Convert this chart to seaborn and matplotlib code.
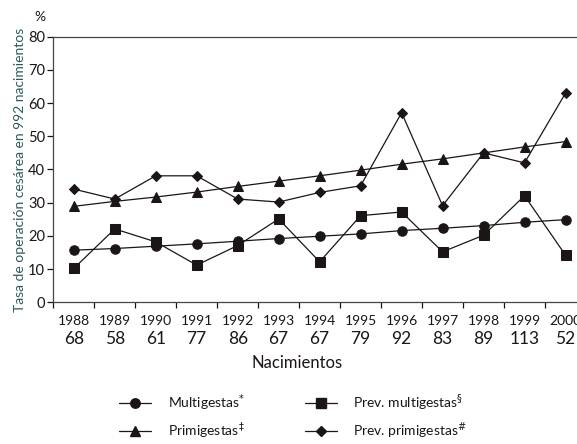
import matplotlib
matplotlib.use("Agg")
import matplotlib.pyplot as plt
import matplotlib.transforms as mtransforms
from matplotlib.lines import Line2D
import seaborn as sns
import pandas as pd
import numpy as np

years = ["1988", "1989", "1990", "1991", "1992", "1993", "1994",
         "1995", "1996", "1997", "1998", "1999", "2000"]
births = ["68", "58", "61", "77", "86", "67", "67", "79", "92", "83", "89", "113", "52"]

multigestas = [15.7, 16.2, 16.9, 17.6, 18.4, 19.2, 19.9, 20.6, 21.6, 22.3, 23.1, 24.1, 24.9]
prev_multigestas = [10.2, 22.1, 18.2, 11.2, 17.1, 25.1, 12.2, 26.1, 27.2, 15.2, 20.2, 32.1, 14.2]
primigestas = [28.9, 30.4, 31.7, 33.2, 34.9, 36.5, 38.1, 39.8, 41.6, 43.2, 45.0, 46.8, 48.4]
prev_primigestas = [34.1, 31.1, 38.1, 38.1, 31.1, 30.2, 33.1, 35.1, 57.1, 29.1, 45.0, 42.0, 63.0]

series_names = ["Multigestas", "Prev. multigestas", "Primigestas", "Prev. primigestas"]
series_vals = [multigestas, prev_multigestas, primigestas, prev_primigestas]
labels = ["Multigestas$^{*}$", "Prev. multigestas$^{\\S}$",
          "Primigestas$^{\\ddag}$", "Prev. primigestas$^{\\#}$"]

rows = []
for name, vals in zip(series_names, series_vals):
    for i, v in enumerate(vals):
        rows.append({"pos": i, "value": v, "serie": name})
df = pd.DataFrame(rows)

sns.set_style("ticks")
plt.rcParams["font.family"] = ["Lato", "DejaVu Sans"]
plt.rcParams["mathtext.fontset"] = "dejavusans"

ink = "#1c1515"
markers = {"Multigestas": "o", "Prev. multigestas": "s",
           "Primigestas": "^", "Prev. primigestas": "D"}
sizes = {"Multigestas": 6.8, "Prev. multigestas": 7.2,
         "Primigestas": 7.4, "Prev. primigestas": 5.6}

fig = plt.figure(figsize=(5.77, 4.44), dpi=100)
ax = fig.add_axes([53.3 / 577, 1 - 302.3 / 444, (586 - 53.3) / 577, (302.3 - 36.7) / 444])

for name in series_names:
    sub = df[df["serie"] == name]
    sns.lineplot(data=sub, x="pos", y="value", ax=ax, color=ink, lw=0.9,
                 marker=markers[name], markersize=sizes[name],
                 markeredgecolor=ink, markerfacecolor=ink, legend=False)

ax.set_xlim(-0.5, 12.5)
ax.set_ylim(0, 80)
ax.set_yticks(np.arange(0, 81, 10))
ax.tick_params(axis="y", labelsize=10.5, length=4, width=0.9, color=ink, pad=2, labelcolor=ink)
ax.set_xticks(np.arange(13))
ax.set_xticklabels(years, fontsize=10, color=ink)
ax.tick_params(axis="x", which="major", length=0, pad=9)
ax.set_xticks(np.arange(-0.5, 12.6, 1), minor=True)
ax.tick_params(axis="x", which="minor", length=4, width=0.9, color=ink)
ax.set_xlabel("")
ax.set_ylabel("Tasa de operación cesárea en 992 nacimientos", fontsize=10,
              color="#2b5a57", labelpad=1)

for sp in ["left", "bottom", "top"]:
    ax.spines[sp].set_color("#4a4443")
    ax.spines[sp].set_linewidth(0.9)
ax.spines["right"].set_visible(False)

trans = mtransforms.blended_transform_factory(ax.transData, fig.transFigure)
for i, b in enumerate(births):
    ax.text(i, 1 - 338.7 / 444, b, transform=trans, ha="center", va="center",
            fontsize=12.5, color=ink)

fig.text(296.7 / 577, 1 - 363 / 444, "Nacimientos", ha="center", va="center",
         fontsize=12, color=ink)
fig.text(40 / 577, 1 - 17 / 444, "%", ha="center", va="center", fontsize=10, color=ink)

handles = {}
for name, lab in zip(series_names, labels):
    handles[name] = Line2D([], [], color=ink, lw=0.9, marker=markers[name],
                           markersize=sizes[name], markerfacecolor=ink,
                           markeredgecolor=ink, label=lab)
order = ["Multigestas", "Primigestas", "Prev. multigestas", "Prev. primigestas"]
leg = fig.legend([handles[n] for n in order], [handles[n].get_label() for n in order],
                 ncol=2, loc="center", bbox_to_anchor=(293 / 577, 1 - 416.4 / 444),
                 frameon=False, fontsize=10, handlelength=2.3, handletextpad=1.2,
                 columnspacing=4.3, labelspacing=0.55)
for t in leg.get_texts():
    t.set_color(ink)

fig.savefig("out.png", dpi=100)
